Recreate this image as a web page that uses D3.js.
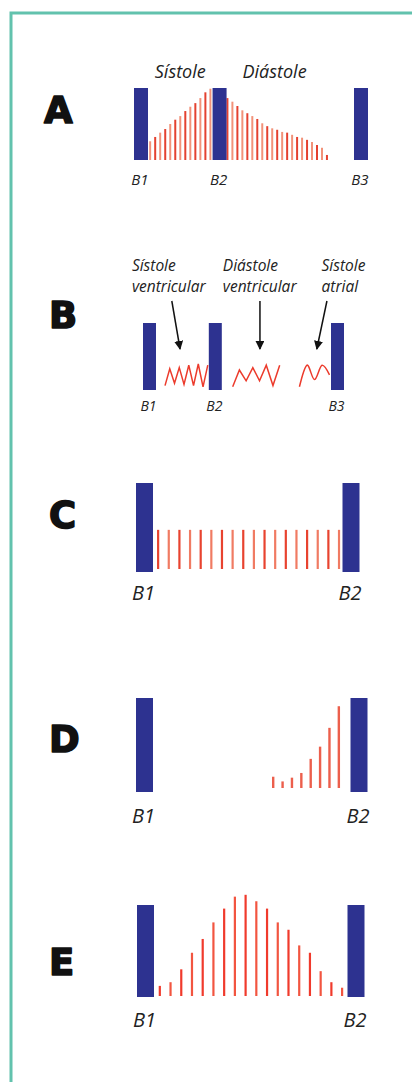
<!DOCTYPE html>
<html>
<head>
<meta charset="utf-8">
<script src="https://cdn.jsdelivr.net/npm/d3@7"></script>
<style>
  body { margin: 0; background: #fff; }
  svg { display: block; }
</style>
</head>
<body>
<svg id="chart"></svg>
<script>
// Panel A: beats (time in ms) and murmur intensities (% of beat height)
const beatsA = [['B1', 0], ['B2', 300], ['B3', 840]];
const systoleA = [26, 32, 38, 43, 50, 56, 61, 68, 74, 79, 86, 94, 99];
const diastoleA = [86, 81, 75, 69, 65, 61, 57, 51, 47, 44, 42, 39, 38, 35, 32, 31, 28, 25, 21, 17, 7];
const titlesA = ['Sístole', 'Diástole'];

// Panel B: beats and three zigzag murmurs (relative amplitude 0..1)
const beatsB = [['B1', 0], ['B2', 280], ['B3', 800]];
const zigVentSys = [0.1, 0.8, 0.2, 0.85, 0.15, 0.95, 0.1, 1, 0.05, 0.95];
const zigVentDia = [0.05, 0.75, 0.3, 0.85, 0.3, 0.95, 0.1, 0.95];
const zigAtrSys = [0.05, 0.95, 0.35, 0.95, 0.55];
const titlesB = [['Sístole', 'ventricular'], ['Diástole', 'ventricular'], ['Sístole', 'atrial']];

// Panels C, D, E
const beatsC = [['B1', 0], ['B2', 500]];
const murmurC = [44, 44, 44, 44, 44, 44, 44, 44, 44, 44, 44, 44, 44, 44, 44, 44, 44, 44];
const beatsD = [['B1', 0], ['B2', 500]];
const murmurD = [12, 7, 11, 16, 31, 44, 64, 87];
const beatsE = [['B1', 0], ['B2', 500]];
const murmurE = [11, 15, 29, 47, 62, 80, 95, 108, 110, 103, 95, 80, 72, 55, 47, 27, 15, 9];

const W = 412, H = 1082;
const blue = '#2d3290';
const ink = '#222';

const svg = d3.select('#chart').attr('width', W).attr('height', H);

// frame
svg.append('path')
    .attr('d', `M11,${H} V13 H${W}`)
    .attr('fill', 'none')
    .attr('stroke', '#62c2ad')
    .attr('stroke-width', 3);

// arrow marker
svg.append('defs').append('marker')
    .attr('id', 'head')
    .attr('viewBox', '0 0 10 10')
    .attr('refX', 9).attr('refY', 5)
    .attr('markerWidth', 6).attr('markerHeight', 6)
    .attr('markerUnits', 'strokeWidth')
    .attr('orient', 'auto')
    .append('path').attr('d', 'M0,0 L10,5 L0,10 Z').attr('fill', '#111');

function panelLetter(txt, x, y) {
    svg.append('text')
        .attr('x', x).attr('y', y)
        .attr('font-family', '"DejaVu Sans", sans-serif')
        .attr('font-weight', 'bold')
        .attr('font-size', 37)
        .attr('fill', '#111')
        .attr('stroke', '#111')
        .attr('stroke-width', 1.6)
        .attr('stroke-linejoin', 'round')
        .text(txt);
}

// generic panel: beats as blue bars, murmurs as vertical red lines
function drawPanel(cfg) {
    const g = svg.append('g');
    const x = d3.scaleLinear().domain(cfg.domain).range(cfg.xRange);
    const barH = cfg.barY[1] - cfg.barY[0];
    const y = d3.scaleLinear().domain([0, 100]).range([cfg.lineBase, cfg.lineBase - barH]);

    (cfg.murmurs || []).forEach(m => {
        const xs = d3.scaleLinear().domain([0, m.values.length - 1]).range([m.from, m.to]);
        g.selectAll(null)
            .data(m.values)
            .enter().append('line')
            .attr('x1', (d, i) => x(xs(i)))
            .attr('x2', (d, i) => x(xs(i)))
            .attr('y1', y(0))
            .attr('y2', d => y(d))
            .attr('stroke', (d, i) => m.colors[i % m.colors.length])
            .attr('stroke-width', m.width);
    });

    g.selectAll('.beat')
        .data(cfg.beats)
        .enter().append('rect')
        .attr('class', 'beat')
        .attr('x', d => x(d[1]) - cfg.barW / 2)
        .attr('y', cfg.barY[0])
        .attr('width', cfg.barW)
        .attr('height', barH)
        .attr('fill', blue);

    g.selectAll('.blabel')
        .data(cfg.beats)
        .enter().append('text')
        .attr('class', 'blabel')
        .attr('x', d => x(d[1]) - 1)
        .attr('y', cfg.labelY)
        .attr('text-anchor', 'middle')
        .attr('font-family', '"Open Sans", sans-serif')
        .attr('font-style', 'italic')
        .attr('font-size', cfg.labelSize)
        .attr('fill', ink)
        .text(d => d[0]);

    return x;
}

// ---- A ----
panelLetter('A', 44, 123);
const xA = drawPanel({
    beats: beatsA, domain: [0, 840], xRange: [141, 361],
    barY: [88, 160], barW: 14, lineBase: 160,
    labelY: 185, labelSize: 15,
    murmurs: [
        {from: 35, to: 265, values: systoleA, colors: ['#f29279', '#e4412f'], width: 2},
        {from: 330, to: 710, values: diastoleA, colors: ['#e4412f', '#f29279'], width: 2}
    ]
});
svg.selectAll('.titleA')
    .data(titlesA)
    .enter().append('text')
    .attr('x', (d, i) => i === 0 ? xA(150) : xA(510))
    .attr('y', 78)
    .attr('text-anchor', 'middle')
    .attr('font-family', '"Open Sans", sans-serif')
    .attr('font-style', 'italic')
    .attr('font-size', 18)
    .attr('fill', ink)
    .text(d => d);

// ---- B ----
panelLetter('B', 49, 328);
const xB = drawPanel({
    beats: beatsB, domain: [0, 800], xRange: [149.5, 337.5],
    barY: [323, 390], barW: 13, lineBase: 390,
    labelY: 411, labelSize: 14
});
const yZ = d3.scaleLinear().domain([0, 1]).range([388, 364]);
const zigs = [
    {from: 66, to: 248, values: zigVentSys, curve: d3.curveLinear},
    {from: 354, to: 554, values: zigVentDia, curve: d3.curveLinear},
    {from: 638, to: 766, values: zigAtrSys, curve: d3.curveCardinal}
];
zigs.forEach(z => {
    const xs = d3.scaleLinear().domain([0, z.values.length - 1]).range([z.from, z.to]);
    const line = d3.line()
        .x((d, i) => xB(xs(i)))
        .y(d => yZ(d))
        .curve(z.curve);
    svg.append('path')
        .attr('d', line(z.values))
        .attr('fill', 'none')
        .attr('stroke', '#ec3b2c')
        .attr('stroke-width', 1.5);
});
// titles and arrows: text left x, arrow from/to in time units
const titleTimes = [-75, 312, 732];
const arrowsB = [[95, 130], [470, 470], [755, 712]];
titlesB.forEach((t, i) => {
    t.forEach((s, j) => {
        svg.append('text')
            .attr('x', xB(titleTimes[i]))
            .attr('y', 271 + j * 21)
            .attr('font-family', '"Open Sans", sans-serif')
            .attr('font-style', 'italic')
            .attr('font-size', 15.5)
            .attr('fill', ink)
            .text(s);
    });
});
svg.selectAll('.arrow')
    .data(arrowsB)
    .enter().append('line')
    .attr('class', 'arrow')
    .attr('x1', d => xB(d[0]))
    .attr('y1', 301)
    .attr('x2', d => xB(d[1]))
    .attr('y2', 349)
    .attr('stroke', '#111')
    .attr('stroke-width', 1.5)
    .attr('marker-end', 'url(#head)');

// ---- C ----
panelLetter('C', 49, 528);
drawPanel({
    beats: beatsC, domain: [0, 500], xRange: [144.5, 351],
    barY: [483, 572], barW: 17, lineBase: 569,
    labelY: 600, labelSize: 20,
    murmurs: [{from: 33, to: 471, values: murmurC, colors: ['#e8432f', '#f07b63'], width: 2.2}]
});

// ---- D ----
panelLetter('D', 49, 752);
drawPanel({
    beats: beatsD, domain: [0, 500], xRange: [144.5, 359],
    barY: [698, 792], barW: 17, lineBase: 788,
    labelY: 823, labelSize: 20,
    murmurs: [{from: 300, to: 453, values: murmurD, colors: ['#ec5f4c'], width: 2.4}]
});

// ---- E ----
panelLetter('E', 49, 975);
drawPanel({
    beats: beatsE, domain: [0, 500], xRange: [145.5, 356],
    barY: [905, 997], barW: 17, lineBase: 996,
    labelY: 1027, labelSize: 20,
    murmurs: [{from: 34, to: 467, values: murmurE, colors: ['#f03a2c', '#f25540'], width: 2.2}]
});
</script>
</body>
</html>
